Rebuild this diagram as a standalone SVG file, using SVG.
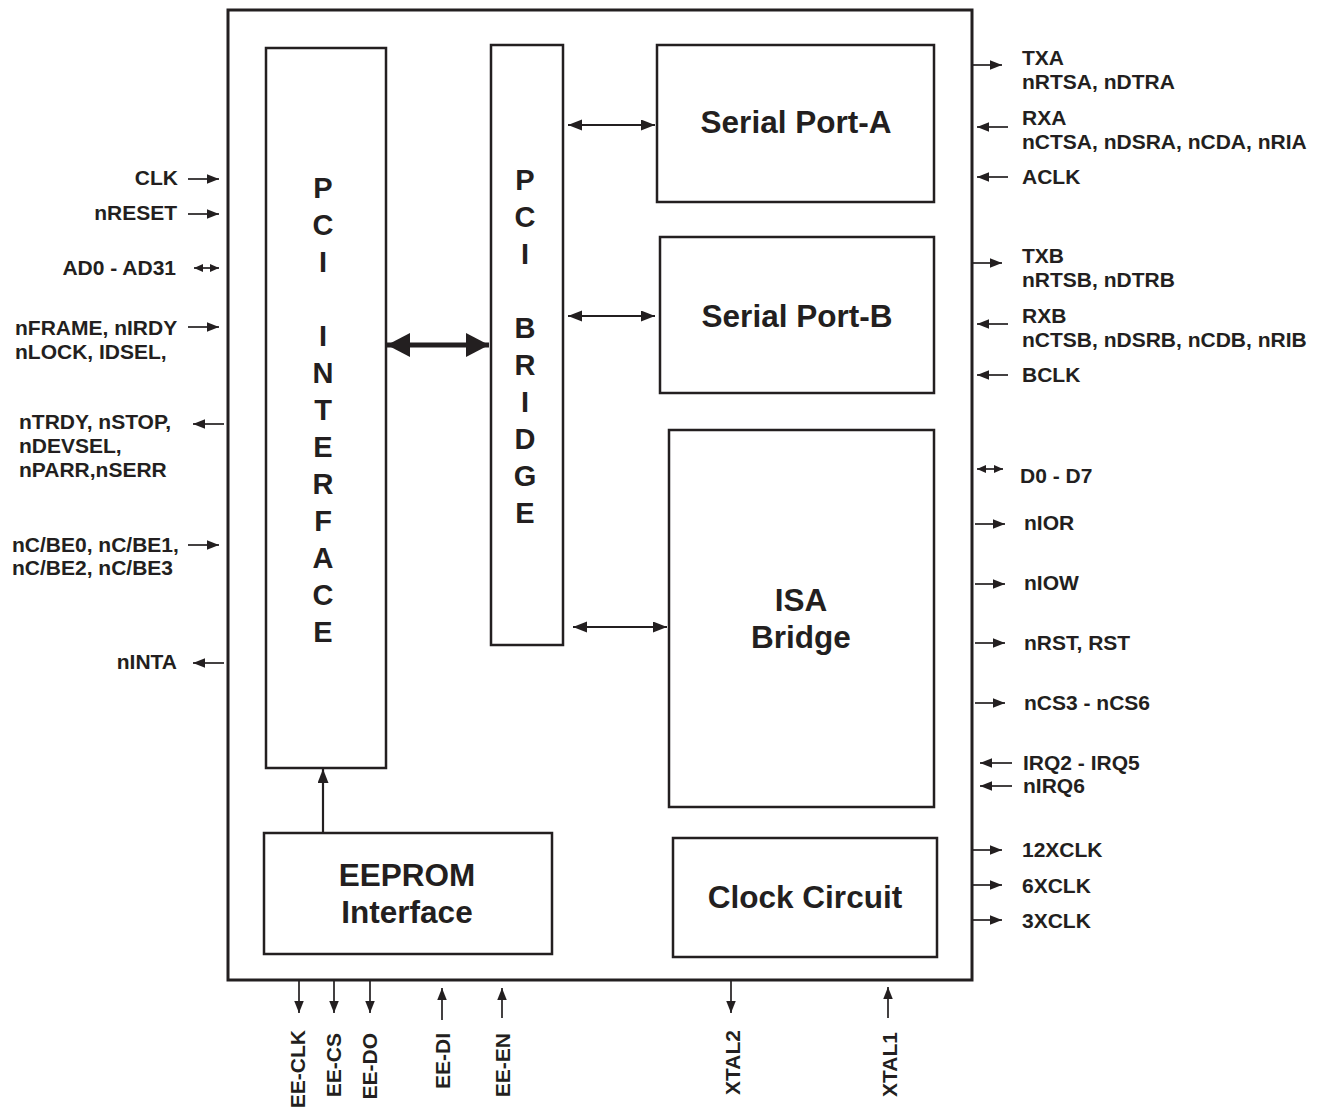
<svg xmlns="http://www.w3.org/2000/svg" width="1325" height="1109" viewBox="0 0 1325 1109">
<style>
  .box { fill: #ffffff; stroke: #231f20; stroke-width: 2.5; }
  .outer { fill: #ffffff; stroke: #231f20; stroke-width: 3; }
  .big { font-family: "Liberation Sans", Arial, sans-serif; font-weight: bold; font-size: 31.5px; fill: #231f20; text-anchor: middle; }
  .vert { font-family: "Liberation Sans", Arial, sans-serif; font-weight: bold; font-size: 29px; fill: #231f20; text-anchor: middle; }
  .lbl { font-family: "Liberation Sans", Arial, sans-serif; font-weight: bold; font-size: 21px; fill: #231f20; }
  .r { text-anchor: end; }
  .w { stroke: #231f20; stroke-width: 1.7; fill: none; }
  .w2 { stroke: #231f20; stroke-width: 2.2; fill: none; }
  .w5 { stroke: #231f20; stroke-width: 5; fill: none; }
</style>
<defs>
  <marker id="ah" markerUnits="userSpaceOnUse" markerWidth="13" markerHeight="10" refX="12" refY="4.75" orient="auto-start-reverse">
    <path d="M0,0 L12,4.75 L0,9.5 z" fill="#231f20"/>
  </marker>
  <marker id="as" markerUnits="userSpaceOnUse" markerWidth="10" markerHeight="9" refX="9" refY="4" orient="auto-start-reverse">
    <path d="M0,0 L9,4 L0,8 z" fill="#231f20"/>
  </marker>
  <marker id="am" markerUnits="userSpaceOnUse" markerWidth="14" markerHeight="12" refX="14" refY="5.5" orient="auto-start-reverse">
    <path d="M0,0 L14,5.5 L0,11 z" fill="#231f20"/>
  </marker>
  <marker id="ab" markerUnits="userSpaceOnUse" markerWidth="23" markerHeight="25" refX="23" refY="12" orient="auto-start-reverse">
    <path d="M0,0 L23,12 L0,24 z" fill="#231f20"/>
  </marker>
</defs>
<rect width="1325" height="1109" fill="#ffffff"/>

<g id="chip">
  <rect class="outer" x="228" y="10" width="744" height="970"/>
</g>

<g id="pci-interface">
  <rect class="box" x="266" y="48" width="120" height="720"/>
  <text class="vert" x="323" y="198">P</text>
  <text class="vert" x="323" y="235">C</text>
  <text class="vert" x="323" y="272">I</text>
  <text class="vert" x="323" y="346">I</text>
  <text class="vert" x="323" y="383">N</text>
  <text class="vert" x="323" y="420">T</text>
  <text class="vert" x="323" y="457">E</text>
  <text class="vert" x="323" y="494">R</text>
  <text class="vert" x="323" y="531">F</text>
  <text class="vert" x="323" y="568">A</text>
  <text class="vert" x="323" y="605">C</text>
  <text class="vert" x="323" y="642">E</text>
</g>

<g id="pci-bridge">
  <rect class="box" x="491" y="45" width="72" height="600"/>
  <text class="vert" x="525" y="190">P</text>
  <text class="vert" x="525" y="227">C</text>
  <text class="vert" x="525" y="264">I</text>
  <text class="vert" x="525" y="338">B</text>
  <text class="vert" x="525" y="375">R</text>
  <text class="vert" x="525" y="412">I</text>
  <text class="vert" x="525" y="449">D</text>
  <text class="vert" x="525" y="486">G</text>
  <text class="vert" x="525" y="523">E</text>
</g>

<g id="serial-port-a">
  <rect class="box" x="657" y="45" width="277" height="157"/>
  <text class="big" x="796" y="133">Serial Port-A</text>
</g>

<g id="serial-port-b">
  <rect class="box" x="660" y="237" width="274" height="156"/>
  <text class="big" x="797" y="327">Serial Port-B</text>
</g>

<g id="isa-bridge">
  <rect class="box" x="669" y="430" width="265" height="377"/>
  <text class="big" x="801" y="611">ISA</text>
  <text class="big" x="801" y="648">Bridge</text>
</g>

<g id="eeprom-interface">
  <rect class="box" x="264" y="833" width="288" height="121"/>
  <text class="big" x="407" y="886">EEPROM</text>
  <text class="big" x="407" y="923">Interface</text>
</g>

<g id="clock-circuit">
  <rect class="box" x="673" y="838" width="264" height="119"/>
  <text class="big" x="805" y="908">Clock Circuit</text>
</g>

<g id="connectors">
  <line class="w5" x1="387" y1="345" x2="489" y2="345" marker-start="url(#ab)" marker-end="url(#ab)"/>
  <line class="w2" x1="568" y1="125" x2="655" y2="125" marker-start="url(#am)" marker-end="url(#am)"/>
  <line class="w2" x1="568" y1="316" x2="655" y2="316" marker-start="url(#am)" marker-end="url(#am)"/>
  <line class="w2" x1="573" y1="627" x2="667" y2="627" marker-start="url(#am)" marker-end="url(#am)"/>
  <line class="w2" x1="323" y1="833" x2="323" y2="769" marker-end="url(#am)"/>

  <line class="w" x1="188" y1="179" x2="219" y2="179" marker-end="url(#ah)"/>
  <line class="w" x1="188" y1="214" x2="219" y2="214" marker-end="url(#ah)"/>
  <line class="w" x1="194" y1="268" x2="219" y2="268" marker-start="url(#as)" marker-end="url(#as)"/>
  <line class="w" x1="188" y1="327" x2="219" y2="327" marker-end="url(#ah)"/>
  <line class="w" x1="224" y1="424" x2="193" y2="424" marker-end="url(#ah)"/>
  <line class="w" x1="188" y1="545" x2="219" y2="545" marker-end="url(#ah)"/>
  <line class="w" x1="224" y1="663" x2="193" y2="663" marker-end="url(#ah)"/>

  <line class="w" x1="972" y1="65" x2="1002" y2="65" marker-end="url(#ah)"/>
  <line class="w" x1="1008" y1="127" x2="977" y2="127" marker-end="url(#ah)"/>
  <line class="w" x1="1008" y1="177" x2="977" y2="177" marker-end="url(#ah)"/>
  <line class="w" x1="972" y1="263" x2="1002" y2="263" marker-end="url(#ah)"/>
  <line class="w" x1="1008" y1="324" x2="977" y2="324" marker-end="url(#ah)"/>
  <line class="w" x1="1008" y1="375" x2="977" y2="375" marker-end="url(#ah)"/>
  <line class="w" x1="977" y1="469" x2="1003" y2="469" marker-start="url(#as)" marker-end="url(#as)"/>
  <line class="w" x1="975" y1="524" x2="1005" y2="524" marker-end="url(#ah)"/>
  <line class="w" x1="975" y1="584" x2="1005" y2="584" marker-end="url(#ah)"/>
  <line class="w" x1="975" y1="643" x2="1005" y2="643" marker-end="url(#ah)"/>
  <line class="w" x1="975" y1="703" x2="1005" y2="703" marker-end="url(#ah)"/>
  <line class="w" x1="1012" y1="763" x2="980" y2="763" marker-end="url(#ah)"/>
  <line class="w" x1="1012" y1="786" x2="980" y2="786" marker-end="url(#ah)"/>
  <line class="w" x1="972" y1="850" x2="1002" y2="850" marker-end="url(#ah)"/>
  <line class="w" x1="972" y1="885" x2="1002" y2="885" marker-end="url(#ah)"/>
  <line class="w" x1="972" y1="920" x2="1002" y2="920" marker-end="url(#ah)"/>

  <line class="w" x1="299" y1="981" x2="299" y2="1013" marker-end="url(#ah)"/>
  <line class="w" x1="334" y1="981" x2="334" y2="1013" marker-end="url(#ah)"/>
  <line class="w" x1="370" y1="981" x2="370" y2="1013" marker-end="url(#ah)"/>
  <line class="w" x1="442" y1="1020" x2="442" y2="988" marker-end="url(#ah)"/>
  <line class="w" x1="502" y1="1018" x2="502" y2="988" marker-end="url(#ah)"/>
  <line class="w" x1="731" y1="981" x2="731" y2="1013" marker-end="url(#ah)"/>
  <line class="w" x1="888" y1="1018" x2="888" y2="987" marker-end="url(#ah)"/>
</g>

<g id="labels-left">
  <text class="lbl r" x="178" y="185">CLK</text>
  <text class="lbl r" x="177" y="220">nRESET</text>
  <text class="lbl r" x="176" y="275">AD0 - AD31</text>
  <text class="lbl" x="15" y="335">nFRAME, nIRDY</text>
  <text class="lbl" x="15" y="359">nLOCK, IDSEL,</text>
  <text class="lbl" x="19" y="429">nTRDY, nSTOP,</text>
  <text class="lbl" x="19" y="453">nDEVSEL,</text>
  <text class="lbl" x="19" y="477">nPARR,nSERR</text>
  <text class="lbl" x="12" y="552">nC/BE0, nC/BE1,</text>
  <text class="lbl" x="12" y="575">nC/BE2, nC/BE3</text>
  <text class="lbl r" x="177" y="669">nINTA</text>
</g>

<g id="labels-right">
  <text class="lbl" x="1022" y="65">TXA</text>
  <text class="lbl" x="1022" y="89">nRTSA, nDTRA</text>
  <text class="lbl" x="1022" y="125">RXA</text>
  <text class="lbl" x="1022" y="149">nCTSA, nDSRA, nCDA, nRIA</text>
  <text class="lbl" x="1022" y="184">ACLK</text>
  <text class="lbl" x="1022" y="263">TXB</text>
  <text class="lbl" x="1022" y="287">nRTSB, nDTRB</text>
  <text class="lbl" x="1022" y="323">RXB</text>
  <text class="lbl" x="1022" y="347">nCTSB, nDSRB, nCDB, nRIB</text>
  <text class="lbl" x="1022" y="382">BCLK</text>
  <text class="lbl" x="1020" y="483">D0 - D7</text>
  <text class="lbl" x="1024" y="530">nIOR</text>
  <text class="lbl" x="1024" y="590">nIOW</text>
  <text class="lbl" x="1024" y="650">nRST, RST</text>
  <text class="lbl" x="1024" y="710">nCS3 - nCS6</text>
  <text class="lbl" x="1023" y="770">IRQ2 - IRQ5</text>
  <text class="lbl" x="1023" y="793">nIRQ6</text>
  <text class="lbl" x="1022" y="857">12XCLK</text>
  <text class="lbl" x="1022" y="893">6XCLK</text>
  <text class="lbl" x="1022" y="928">3XCLK</text>
</g>

<g id="labels-bottom">
  <text class="lbl r" transform="translate(305,1030) rotate(-90)">EE-CLK</text>
  <text class="lbl r" transform="translate(341,1033) rotate(-90)">EE-CS</text>
  <text class="lbl r" transform="translate(377,1033) rotate(-90)">EE-DO</text>
  <text class="lbl r" transform="translate(450,1033) rotate(-90)">EE-DI</text>
  <text class="lbl r" transform="translate(510,1033) rotate(-90)">EE-EN</text>
  <text class="lbl r" transform="translate(740,1030) rotate(-90)">XTAL2</text>
  <text class="lbl r" transform="translate(897,1032) rotate(-90)">XTAL1</text>
</g>
</svg>
